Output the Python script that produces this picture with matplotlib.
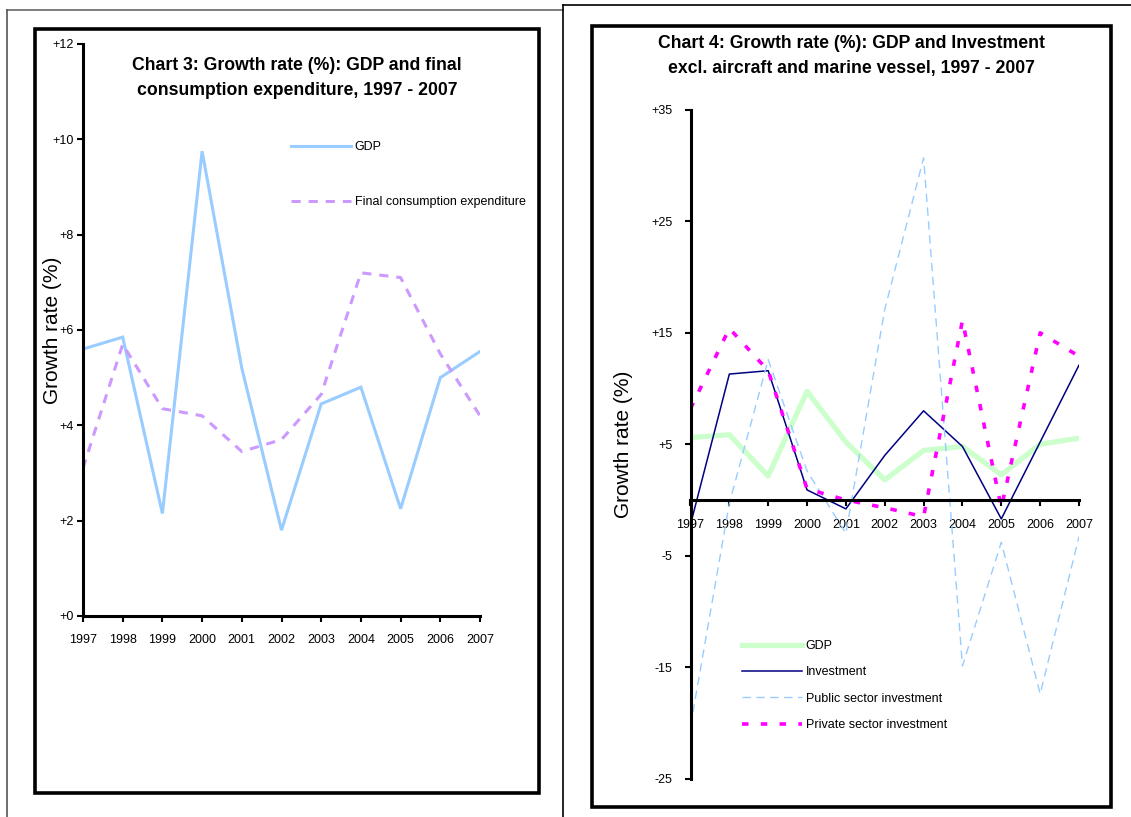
import matplotlib
matplotlib.use("Agg")
import matplotlib.pyplot as plt
from matplotlib.lines import Line2D
from matplotlib.patches import Rectangle

plt.rcParams["font.family"] = ["Liberation Sans", "DejaVu Sans"]

W, H = 1131, 817

years = list(range(1997, 2008))
year_labels = [str(y) for y in years]

# growth rates (%)
gdp = [5.6, 5.85, 2.15, 9.75, 5.2, 1.8, 4.45, 4.8, 2.25, 5.0, 5.55]
final_consumption = [3.1, 5.7, 4.35, 4.2, 3.45, 3.7, 4.65, 7.2, 7.1, 5.5, 4.2]
investment = [-2.2, 11.3, 11.6, 0.9, -0.8, 4.0, 8.0, 4.8, -1.7, 5.2, 12.1]
public_inv = [-20.3, -0.3, 12.6, 2.6, -3.0, 17.1, 30.7, -14.9, -3.8, -17.4, -3.3]
private_inv = [8.2, 15.4, 11.6, 1.0, 0.0, -0.7, -1.5, 16.1, -0.7, 15.0, 12.9]

left_yticks = [0, 2, 4, 6, 8, 10, 12]
right_yticks = [-25, -15, -5, 5, 15, 25, 35]


def fx(px):
    return px / W


def fy(py):
    return 1 - py / H


def signed(v):
    return f"{v:+d}" if v != 0 else "+0"


fig = plt.figure(figsize=(W / 100, H / 100), dpi=100)

# page frames behind the two charts
for xs, ys, col in [([7, 563], [10, 10], "#666666"), ([7, 7], [10, 817], "#555555"),
                    ([563, 1131], [5, 5], "black"), ([563, 563], [5, 817], "black")]:
    fig.add_artist(Line2D([fx(x) for x in xs], [fy(y) for y in ys],
                          transform=fig.transFigure, color=col, lw=1.2))
for x0, y0, x1, y1 in [(35, 29, 539, 793), (592, 26, 1111, 807)]:
    fig.add_artist(Rectangle((fx(x0), fy(y1)), fx(x1 - x0), (y1 - y0) / H,
                             transform=fig.transFigure, fill=False,
                             ec="black", lw=2.6))

# ---- Chart 3 ----
ax1 = fig.add_axes([fx(83), fy(616), fx(480 - 83), (616 - 44) / H])
ax1.plot(years, gdp, color="#99CCFF", lw=2.2, label="GDP", solid_joinstyle="miter")
ax1.plot(years, final_consumption, color="#CC99FF", lw=2.2,
         dashes=(3, 2.6), label="Final consumption expenditure")
ax1.set_xlim(1997, 2007)
ax1.set_ylim(0, 12)
ax1.set_yticks(left_yticks)
ax1.set_yticklabels([signed(v) for v in left_yticks])
ax1.set_xticks(years)
ax1.set_xticklabels(year_labels)
for s in ["top", "right"]:
    ax1.spines[s].set_visible(False)
for s in ["left", "bottom"]:
    ax1.spines[s].set_linewidth(2.2)
ax1.tick_params(axis="both", direction="out", length=4, width=1.5,
                labelsize=9, pad=3)
ax1.tick_params(axis="x", pad=9)
ax1.set_ylabel("Growth rate (%)", fontsize=15)
ax1.yaxis.set_label_coords(-0.053, 0.5)
ax1.patch.set_alpha(0)
fig.text(fx(297), fy(78), "Chart 3: Growth rate (%): GDP and final\n"
         "consumption expenditure, 1997 - 2007", ha="center", va="center",
         fontsize=12.7, fontweight="bold", linespacing=1.65)
ax1.legend(loc="upper left", bbox_to_anchor=(fx(291), fy(141)),
           bbox_transform=fig.transFigure, frameon=False, fontsize=9,
           handlelength=4.8, handletextpad=0.3, labelspacing=3.45,
           borderpad=0, borderaxespad=0)

# ---- Chart 4 ----
ax2 = fig.add_axes([fx(690.5), fy(778.5), fx(1079 - 690.5), (778.5 - 110) / H])
ax2.plot(years, gdp, color="#CCFFCC", lw=3.8, label="GDP")
ax2.plot(years, investment, color="#000080", lw=1.1, label="Investment")
ax2.plot(years, public_inv, color="#99CCFF", lw=1.0, dashes=(6, 4),
         label="Public sector investment")
ax2.plot(years, private_inv, color="#FF00FF", lw=2.6, dashes=(1.8, 3.4),
         label="Private sector investment")
ax2.set_xlim(1997, 2007)
ax2.set_ylim(-25, 35)
ax2.set_yticks(right_yticks)
ax2.set_yticklabels([signed(v) if v > 0 else str(v) for v in right_yticks])
ax2.set_xticks(years)
ax2.set_xticklabels(year_labels)
ax2.spines["bottom"].set_position(("data", 0))
for s in ["top", "right"]:
    ax2.spines[s].set_visible(False)
for s in ["left", "bottom"]:
    ax2.spines[s].set_linewidth(2.2)
ax2.tick_params(axis="both", direction="out", length=4, width=1.5,
                labelsize=9, pad=3)
ax2.tick_params(axis="y", pad=9)
ax2.tick_params(axis="x", pad=10)
ax2.set_ylabel("Growth rate (%)", fontsize=15)
ax2.yaxis.set_label_coords(-0.148, 0.5)
ax2.patch.set_alpha(0)
fig.text(fx(851), fy(56), "Chart 4: Growth rate (%): GDP and Investment\n"
         "excl. aircraft and marine vessel, 1997 - 2007", ha="center",
         va="center", fontsize=12.7, fontweight="bold", linespacing=1.65)
ax2.legend(loc="upper left", bbox_to_anchor=(fx(742), fy(640)),
           bbox_transform=fig.transFigure, frameon=False, fontsize=9,
           handlelength=4.8, handletextpad=0.3, labelspacing=1.15,
           borderpad=0, borderaxespad=0)

fig.savefig("out.png", dpi=100)
